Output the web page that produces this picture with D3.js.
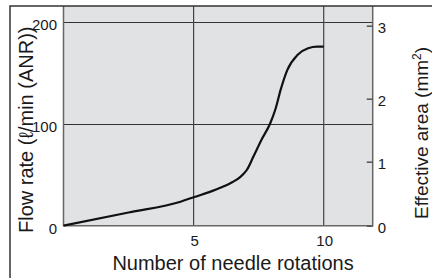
<!DOCTYPE html>
<html>
<head>
<meta charset="utf-8">
<script src="https://cdn.jsdelivr.net/npm/d3@7"></script>
<style>
	body { margin: 0; background: #fff; }
	text { font-family: "Liberation Sans", Arial, sans-serif; fill: #1a1a1a; }
</style>
</head>
<body>
<script>
// flow rate curve (needle rotations, l/min)
var rotations = [0, 2.5, 4.5, 5, 5.6, 6.1, 6.5, 6.8, 7.05, 7.3, 7.6, 7.95, 8.15, 8.35, 8.6, 9, 9.4, 9.75, 10]
var flowRate  = [0, 13, 23.6, 28, 33, 38, 43, 48, 55, 68, 84, 101, 115, 134, 153, 168, 174.5, 176, 176]

var xTicks = [5, 10]
var flowTicks = [0, 100, 200]
var areaTicks = [0, 1, 2, 3]
// pixel spots of the (hand drawn, uneven) effective area ticks
var areaTickPos = [225.7, 161.7, 98.7, 25.7]

var W = 432, H = 278
var pLeft = 63.5, pRight = 372.7, pTop = 6, pBottom = 225.7

var svg = d3.select('body').append('svg')
	.attr('width', W)
	.attr('height', H)

var x = d3.scaleLinear().domain([0, 10]).range([pLeft, 323.7])
var y = d3.scaleLinear().domain([0, 100]).range([pBottom, pBottom - 101.7])
var yArea = d3.scaleLinear().domain(areaTicks).range(areaTickPos)

// plot background
svg.append('rect')
	.attr('x', pLeft)
	.attr('y', pTop)
	.attr('width', pRight - pLeft)
	.attr('height', pBottom - pTop)
	.style('fill', '#e1e2e4')

// grid
svg.selectAll('.hgrid').data(flowTicks.filter(function(d){ return d > 0 })).enter().append('line')
	.attr('x1', pLeft)
	.attr('x2', pRight)
	.attr('y1', function(d){ return Math.round(y(d)) + 0.5 })
	.attr('y2', function(d){ return Math.round(y(d)) + 0.5 })
	.style('stroke', '#333')
	.style('stroke-width', 1.2)

svg.selectAll('.vgrid').data(xTicks).enter().append('line')
	.attr('x1', function(d){ return x(d) })
	.attr('x2', function(d){ return x(d) })
	.attr('y1', pTop)
	.attr('y2', pBottom)
	.style('stroke', '#444')
	.style('stroke-width', 1.2)

// plot frame
svg.append('path')
	.attr('d', 'M' + pLeft + ',' + pTop + 'V' + pBottom + 'H' + pRight + 'V' + pTop)
	.style('fill', 'none')
	.style('stroke', '#666')
	.style('stroke-width', 1.5)

// outer frame
svg.append('path')
	.attr('d', 'M10,' + H + 'V' + pTop + 'H' + W)
	.style('fill', 'none')
	.style('stroke', '#333')
	.style('stroke-width', 1.5)

// left tick labels
svg.selectAll('.ylab').data(flowTicks).enter().append('text')
	.attr('x', 57)
	.attr('y', function(d){ return y(d) + 8 })
	.attr('text-anchor', 'end')
	.style('font-size', '15px')
	.text(function(d){ return d })

// bottom tick labels
svg.selectAll('.xlab').data(xTicks).enter().append('text')
	.attr('x', function(d){ return x(d) + 1 })
	.attr('y', 246)
	.attr('text-anchor', 'middle')
	.style('font-size', '15px')
	.text(function(d){ return d })

// right axis, ticks pointing in
var areaAxis = d3.axisRight(yArea).tickValues(areaTicks).tickSize(-6).tickPadding(5)
	.tickFormat(d3.format('d'))
var ga = svg.append('g')
	.attr('transform', 'translate(' + pRight + ',0)')
	.call(areaAxis)
ga.select('.domain').remove()
ga.selectAll('line').style('stroke', '#555').style('stroke-width', 1.5)
ga.selectAll('text')
	.attr('dy', '0.45em')
	.style('font-size', '15px')
	.style('font-family', '"Liberation Sans", Arial, sans-serif')
	.style('fill', '#1a1a1a')

// flow curve
var pts = rotations.map(function(r, i){ return [r, flowRate[i]] })
var line = d3.line()
	.x(function(d){ return x(d[0]) })
	.y(function(d){ return y(d[1]) })
	.curve(d3.curveMonotoneX)

svg.append('path')
	.datum(pts)
	.attr('d', line)
	.style('fill', 'none')
	.style('stroke', '#111')
	.style('stroke-width', 2.2)

// axis titles
svg.append('text')
	.attr('x', 233)
	.attr('y', 270)
	.attr('text-anchor', 'middle')
	.style('font-size', '20px')
	.text('Number of needle rotations')

svg.append('text')
	.attr('transform', 'translate(33,233) rotate(-90)')
	.style('font-size', '20px')
	.text('Flow rate (ℓ/min (ANR))')

svg.append('text')
	.attr('transform', 'translate(428,219) rotate(-90)')
	.style('font-size', '19px')
	.html('Effective area (mm<tspan dy="-7" style="font-size:12px">2</tspan><tspan dy="7">)</tspan>')
</script>
</body>
</html>
